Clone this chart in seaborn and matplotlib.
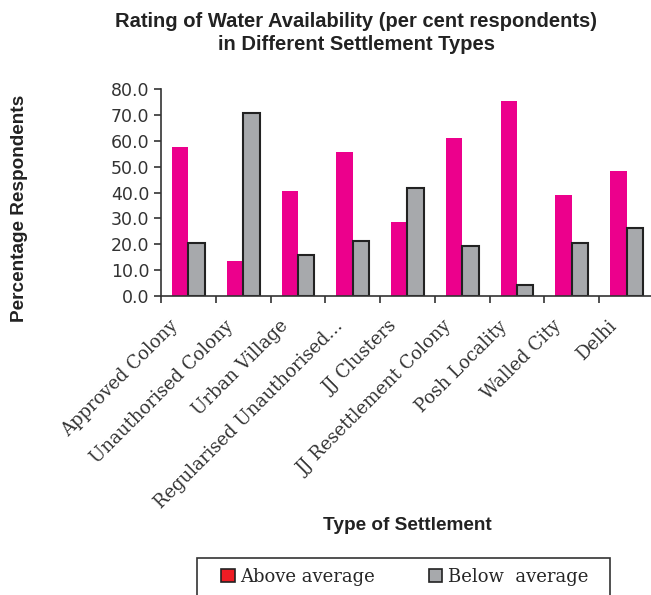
import pandas as pd
import seaborn as sns
import matplotlib.pyplot as plt
from matplotlib.patches import Patch, Rectangle
from matplotlib.transforms import ScaledTranslation

categories = ['Approved Colony', 'Unauthorised Colony', 'Urban Village',
              'Regularised Unauthorised...', 'JJ Clusters', 'JJ Resettlement Colony',
              'Posh Locality', 'Walled City', 'Delhi']
above = [57.6, 13.6, 40.7, 55.5, 28.5, 61.1, 75.3, 39.1, 48.4]
below = [20.5, 70.8, 15.7, 21.1, 41.8, 19.2, 4.3, 20.5, 26.3]
series = ['Above average', 'Below  average']

df = pd.DataFrame({
    'Type': categories * 2,
    'Value': above + below,
    'Series': [series[0]] * len(categories) + [series[1]] * len(categories),
})

sns.set_style('white')
plt.rcParams['font.family'] = ['Liberation Sans', 'DejaVu Sans']

fig = plt.figure(figsize=(6.51, 5.95), dpi=100)
ax = fig.add_axes([161 / 651, 1 - 296 / 595, 493 / 651, 207 / 595])

_ = sns.barplot(data=df, x='Type', y='Value', hue='Series', order=categories,
                hue_order=series, palette=['#EC008C', '#A7A9AC'], saturation=1,
                width=0.6, gap=0, ax=ax, legend=False)

n = len(categories)
for i, p in enumerate(ax.patches[:2 * n]):
    if i >= n:
        p.set_edgecolor('#222222')
        p.set_linewidth(1.5)
    else:
        p.set_edgecolor('none')

ax.set_xlim(-0.5, n - 0.5)
ax.set_ylim(0, 80)
ax.set_yticks(range(0, 81, 10))
ax.set_yticklabels([f'{v:.1f}' for v in range(0, 81, 10)],
                   family='DejaVu Sans', fontsize=12.5, color='#333333')

# category labels, rotated, drawn at each category position
ax.set_xticks([i - 0.5 for i in range(n + 1)])
ax.set_xticklabels([])
shift = ScaledTranslation(-0.13, -0.274, fig.dpi_scale_trans)
for i, name in enumerate(categories):
    ax.text(i, 0, name, transform=ax.get_xaxis_transform() + shift,
            rotation=45, ha='right', va='center', rotation_mode='anchor',
            family='DejaVu Serif', fontsize=13, color='#333333')
ax.tick_params(axis='x', length=5, width=1.2, color='#333333', direction='out', bottom=True)
ax.tick_params(axis='y', length=5, width=1.2, color='#333333', direction='out', left=True)

for s in ['top', 'right']:
    ax.spines[s].set_visible(False)
for s in ['left', 'bottom']:
    ax.spines[s].set_color('#333333')
    ax.spines[s].set_linewidth(1.2)

ax.set_xlabel('')
ax.set_ylabel('')
fig.text(356 / 651, 1 - 33 / 595,
         'Rating of Water Availability (per cent respondents)\nin Different Settlement Types',
         ha='center', va='center', fontsize=14.5, fontweight='bold', color='#222222',
         linespacing=1.3)
fig.text(20 / 651, 1 - 208 / 595, 'Percentage Respondents', rotation=90,
         ha='center', va='center', fontsize=13.7, fontweight='bold', color='#222222')
fig.text(407 / 651, 1 - 525 / 595, 'Type of Settlement',
         ha='center', va='center', fontsize=13.7, fontweight='bold', color='#222222')

# legend box
fig.add_artist(Rectangle((197 / 651, -0.01), 413 / 651, 0.01 + 37 / 595,
                         transform=fig.transFigure, facecolor='white',
                         edgecolor='#333333', linewidth=1.2))
handles = [Patch(facecolor='#ED1C24', edgecolor='#222222', linewidth=1.2),
           Patch(facecolor='#A7A9AC', edgecolor='#222222', linewidth=1.2)]
leg = fig.legend(handles, series, loc='center left',
                 bbox_to_anchor=(221 / 651, 1 - 577 / 595),
                 ncol=2, frameon=False,
                 prop={'family': 'DejaVu Serif', 'size': 13},
                 handlelength=0.75, handleheight=0.75, handletextpad=0.3,
                 borderpad=0, borderaxespad=0, columnspacing=3.0)

plt.savefig('out.png', dpi=100)
